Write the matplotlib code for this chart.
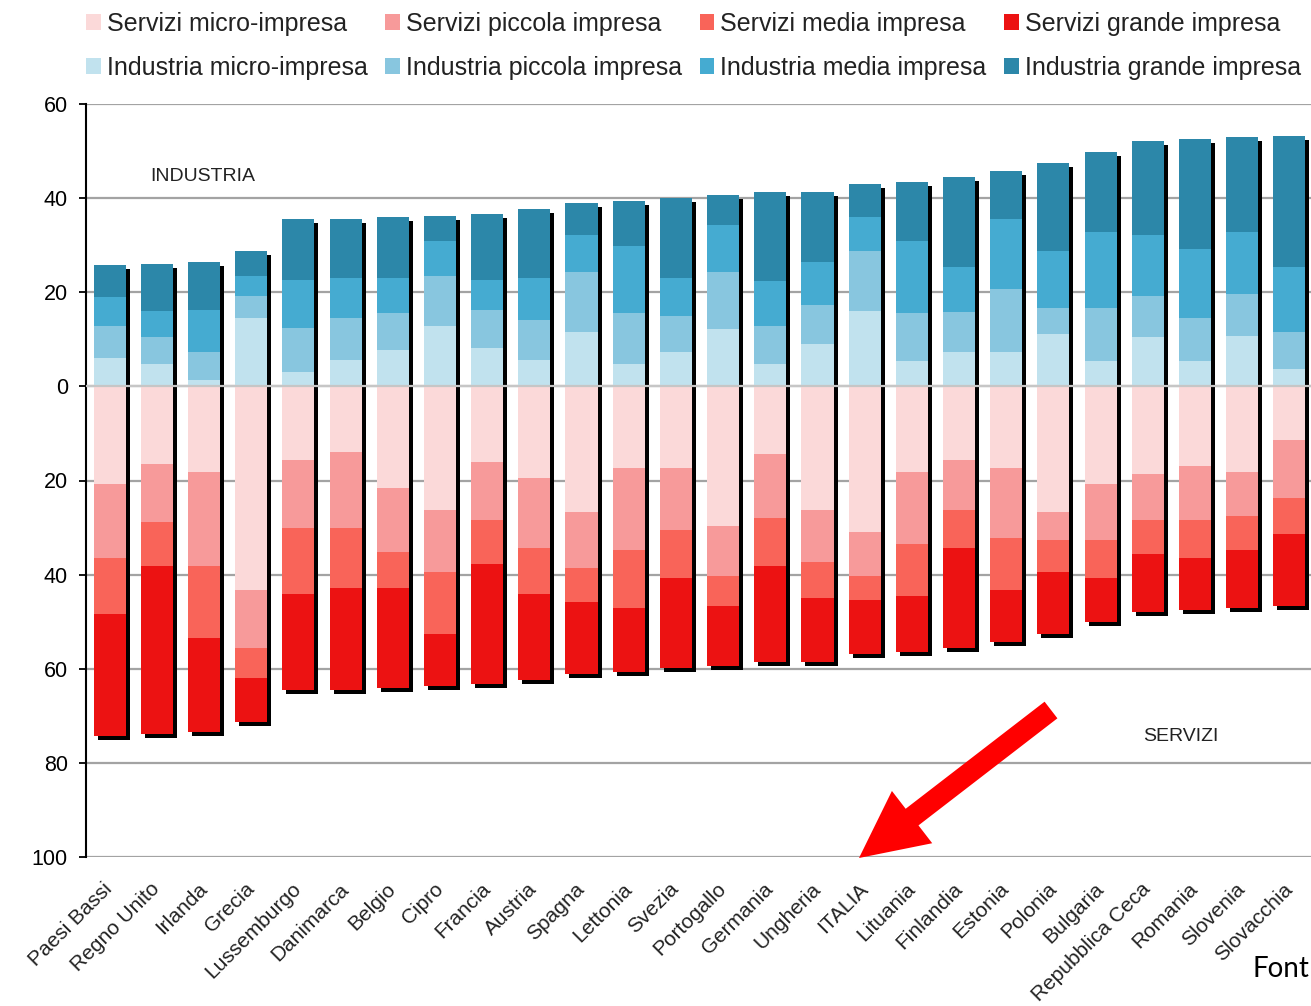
import numpy as np
import matplotlib
matplotlib.use('Agg')
import matplotlib.pyplot as plt
from matplotlib.patches import Patch, FancyArrow
from matplotlib.ticker import FuncFormatter

countries = ["Paesi Bassi", "Regno Unito", "Irlanda", "Grecia", "Lussemburgo", "Danimarca",
             "Belgio", "Cipro", "Francia", "Austria", "Spagna", "Lettonia", "Svezia",
             "Portogallo", "Germania", "Ungheria", "ITALIA", "Lituania", "Finlandia",
             "Estonia", "Polonia", "Bulgaria", "Repubblica Ceca", "Romania", "Slovenia",
             "Slovacchia"]

ind_micro = [6.1, 4.8, 1.4, 14.6, 3.1, 5.7, 7.8, 12.9, 8.2, 5.7, 11.6, 4.8, 7.4, 12.1, 4.8,
             9.1, 16.0, 5.3, 7.4, 7.4, 11.2, 5.3, 10.4, 5.3, 10.8, 3.6]
ind_piccola = [6.8, 5.6, 6.0, 4.7, 9.4, 8.9, 7.7, 10.6, 8.1, 8.5, 12.8, 10.7, 7.6, 12.3, 8.1,
               8.1, 12.7, 10.3, 8.5, 13.2, 5.5, 11.4, 8.9, 9.3, 8.9, 8.0]
ind_media = [6.0, 5.6, 8.9, 4.2, 10.2, 8.5, 7.6, 7.3, 6.4, 8.9, 7.7, 14.4, 8.1, 9.8, 9.4,
             9.3, 7.2, 15.2, 9.4, 14.9, 12.0, 16.2, 12.8, 14.5, 13.2, 13.7]
ind_grande = [6.8, 10.1, 10.2, 5.2, 12.8, 12.4, 12.8, 5.5, 14.0, 14.5, 6.8, 9.4, 17.0, 6.4,
              19.1, 14.9, 7.2, 12.7, 19.1, 10.2, 18.7, 17.0, 20.0, 23.4, 20.0, 28.0]

ser_micro = [20.7, 16.5, 18.2, 43.3, 15.6, 13.9, 21.6, 26.2, 16.0, 19.4, 26.7, 17.3, 17.3,
             29.6, 14.3, 26.2, 30.9, 18.2, 15.6, 17.3, 26.7, 20.7, 18.6, 16.9, 18.2, 11.3]
ser_piccola = [15.7, 12.3, 20.0, 12.3, 14.5, 16.2, 13.6, 13.2, 12.4, 14.9, 11.9, 17.4, 13.2,
               10.7, 13.6, 11.1, 9.4, 15.3, 10.6, 14.9, 5.9, 11.9, 9.8, 11.5, 9.3, 12.4]
ser_media = [12.0, 9.4, 15.3, 6.4, 14.0, 12.7, 7.6, 13.2, 9.3, 9.8, 7.2, 12.4, 10.2, 6.4,
             10.3, 7.7, 5.1, 11.0, 8.1, 11.1, 6.8, 8.1, 7.2, 8.0, 7.2, 7.6]
ser_grande = [25.9, 35.7, 20.0, 9.3, 20.4, 21.7, 21.3, 11.1, 25.6, 18.3, 15.3, 13.6, 19.2,
              12.7, 20.4, 13.6, 11.5, 11.9, 21.3, 11.0, 13.2, 9.4, 12.3, 11.1, 12.4, 15.4]

ser_labels = ["Servizi micro-impresa", "Servizi piccola impresa",
              "Servizi media impresa", "Servizi grande impresa"]
ind_labels = ["Industria micro-impresa", "Industria piccola impresa",
              "Industria media impresa", "Industria grande impresa"]
ser_colors = ["#fbd9d9", "#f79a9a", "#f96459", "#ec1212"]
ind_colors = ["#c1e2ee", "#88c6df", "#45abd1", "#2c87a9"]

plt.rcParams['font.family'] = ['Liberation Sans', 'DejaVu Sans']

fig = plt.figure(figsize=(13.11, 10.06), dpi=100)
ax = fig.add_axes([86 / 1311, 149 / 1006, (1313 - 86) / 1311, (857 - 104) / 1006])

x = np.arange(len(countries))
w = 0.68
ind = [np.array(v) for v in (ind_micro, ind_piccola, ind_media, ind_grande)]
ser = [np.array(v) for v in (ser_micro, ser_piccola, ser_media, ser_grande)]
ind_tot = sum(ind)
ser_tot = sum(ser)

# shadow
sdx, sdy = 0.085, 0.85
ax.bar(x + sdx, ind_tot + ser_tot, bottom=-ser_tot - sdy, width=w, color='black',
       linewidth=0, zorder=2)

bottom = np.zeros(len(x))
for vals, col in zip(ind, ind_colors):
    ax.bar(x, vals, bottom=bottom, width=w, color=col, linewidth=0, zorder=3)
    bottom = bottom + vals
bottom = np.zeros(len(x))
for vals, col in zip(ser, ser_colors):
    ax.bar(x, -vals, bottom=-bottom, width=w, color=col, linewidth=0, zorder=3)
    bottom = bottom + vals

ax.set_xlim(-0.5, len(x) - 0.5)
ax.set_ylim(-100, 60)
ax.set_yticks(np.arange(-100, 61, 20))
ax.yaxis.set_major_formatter(FuncFormatter(lambda v, p: f"{abs(int(round(v)))}"))
ax.set_axisbelow(True)
ax.yaxis.grid(True, color='#a3a3a3', linewidth=1.6, zorder=0)
ax.axhline(0, color='#c6c6c6', linewidth=1.6, zorder=5)
for s in ('top', 'right', 'bottom'):
    ax.spines[s].set_visible(False)
ax.spines['left'].set_color('black')
ax.spines['left'].set_linewidth(1.5)
ax.tick_params(axis='y', direction='out', length=5, width=1.3, pad=8, labelsize=15.5,
               colors='black')
ax.set_xticks(x)
ax.set_xticklabels(countries, rotation=45, ha='right', va='center',
                   rotation_mode='anchor', fontsize=15, color='#222222')
ax.tick_params(axis='x', length=0, pad=21)

ax.text(0.87, 44.7, "INDUSTRIA", ha='left', va='center', fontsize=14, color='#222222')
ax.text(21.9, -74.5, "SERVIZI", ha='left', va='center', fontsize=14, color='#222222')

handles, labels = [], []
for i in range(4):
    handles.append(Patch(facecolor=ser_colors[i], edgecolor='none'))
    labels.append(ser_labels[i])
    handles.append(Patch(facecolor=ind_colors[i], edgecolor='none'))
    labels.append(ind_labels[i])
fig.legend(handles, labels, ncol=4, loc='upper left', bbox_to_anchor=(86 / 1311, 0.988),
           frameon=False, fontsize=18.0, handlelength=0.58, handleheight=0.58,
           handletextpad=0.25, columnspacing=0.7, borderaxespad=0, borderpad=0,
           labelspacing=0.78, labelcolor='#222222')

arrow = FancyArrow(10.51, 2.96, -1.92, -1.48, width=0.21, head_width=0.66,
                   head_length=0.67, length_includes_head=True, color='#ff0000',
                   linewidth=0, transform=fig.dpi_scale_trans)
fig.add_artist(arrow)

fig.text(1309 / 1311, (1006 - 969) / 1006, "Font", fontsize=20, family=['Lato', 'DejaVu Sans'],
         ha='right', va='center', color='black')

fig.savefig('out.png', dpi=100)
